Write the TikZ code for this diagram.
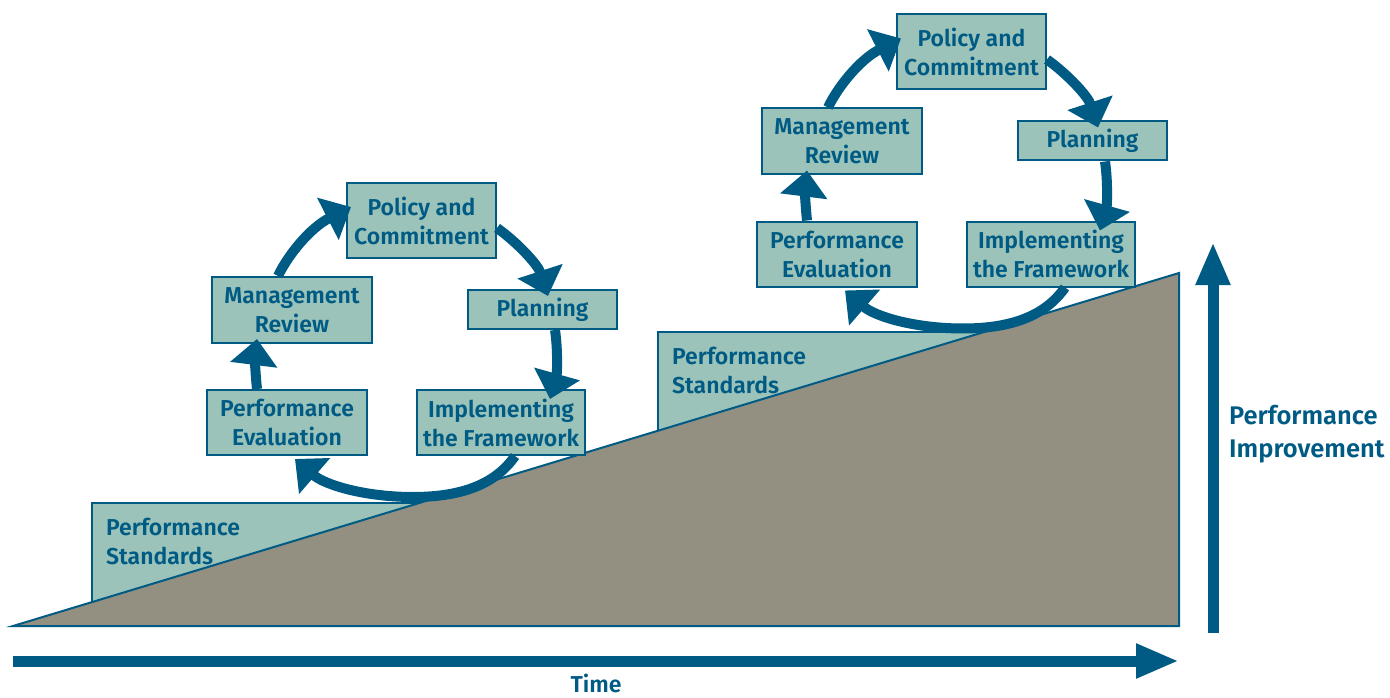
\documentclass[tikz,border=0pt]{standalone}
\usepackage{fontspec}
\setmainfont{Fira Sans SemiBold}
\usetikzlibrary{arrows.meta,calc}
\definecolor{dblue}{RGB}{0,91,132}
\definecolor{boxteal}{RGB}{155,195,186}
\definecolor{slopegray}{RGB}{147,144,130}
\newcommand\txtfont{\fontsize{23}{29}\selectfont}
\newcommand\axfont{\fontsize{25.5}{33}\selectfont}
\tikzset{
  cbox/.style={draw=dblue, line width=2pt, fill=boxteal, text=dblue, align=center, inner sep=0pt, font=\txtfont},
  cyc/.style={draw=dblue, line width=10pt, -{Triangle[length=26pt,width=46pt]}},
  axisarrow/.style={draw=dblue, line width=11pt, -{Triangle[length=43pt,width=32pt]}},
  lbl/.style={text=dblue, align=left, inner sep=0pt, font=\txtfont},
  axlbl/.style={text=dblue, align=left, inner sep=0pt, font=\axfont},
  stdbox/.style={draw=dblue, line width=2pt, fill=boxteal},
  slope/.style={draw=dblue, line width=2pt, fill=slopegray, line join=miter},
}
\newcommand\drawcycle[1]{%
  \node[cbox, minimum width=149pt, minimum height=75pt] (p#1) at (421.5,220.5) {Policy and\\Commitment};
  \node[cbox, minimum width=149pt, minimum height=39pt] (pl#1) at (542.5,309.5) {Planning};
  \node[cbox, minimum width=168pt, minimum height=65pt] (im#1) at (501,422.5) {Implementing\\the Framework};
  \node[cbox, minimum width=160pt, minimum height=65pt] (pe#1) at (287,422.5) {Performance\\Evaluation};
  \node[cbox, minimum width=160pt, minimum height=66pt] (mr#1) at (292,310) {Management\\Review};
  \draw[cyc] ([xshift=-14pt]mr#1.north) .. controls (288,255) and (310,228) .. ([xshift=5pt,yshift=13.5pt]p#1.west);
  \draw[cyc] ([yshift=-7.5pt]p#1.east) .. controls (518,243) and (538,265) .. ([xshift=5.5pt,yshift=-7pt]pl#1.north);
  \draw[cyc] ([xshift=12.5pt]pl#1.south) .. controls (558,350) and (557,374) .. ([xshift=49pt,yshift=-10pt]im#1.north);
  \draw[cyc] ([xshift=14pt]im#1.south) .. controls (495,485) and (460,497) .. (413,497) .. controls (365,497) and (325,485) .. ([xshift=8pt,yshift=-3pt]pe#1.south);
  \draw[cyc] ([xshift=-30pt]pe#1.north) .. controls (255,370) and (255,355) .. ([xshift=-35pt,yshift=5pt]mr#1.south);
}
\begin{document}
\begin{tikzpicture}[x=1pt,y=-1pt]
\useasboundingbox (0,0) rectangle (1390,698);
% performance standards boxes
\draw[stdbox] (92,503) rectangle (450,626);
\draw[stdbox] (658,332) rectangle (1050,626);
\node[lbl, anchor=west] (std1) at (106,541) {Performance\\Standards};
\node[lbl, anchor=west] (std2) at (672,370) {Performance\\Standards};
% slope
\coordinate (s0) at (13,626);
\coordinate (s1) at (1179,273);
\coordinate (s2) at (1179,626);
\draw[slope] (s0) -- (s1) -- (s2) -- cycle;
% cycles
\drawcycle{a}
\begin{scope}[shift={(550,-168.5)}]
\drawcycle{b}
\end{scope}
% axes
\coordinate (t0) at (13,661);
\coordinate (t1) at (1179,661);
\draw[axisarrow] (t0) -- (t1);
\node[axlbl, font=\fontsize{23}{29}\selectfont, anchor=center] (time) at (596,683) {Time};
\coordinate (v0) at (1213,633);
\coordinate (v1) at (1213,242);
\draw[axisarrow] (v0) -- (v1);
\node[axlbl, anchor=west] (pi) at (1229,434) {Performance\\Improvement};
\end{tikzpicture}
\end{document}
